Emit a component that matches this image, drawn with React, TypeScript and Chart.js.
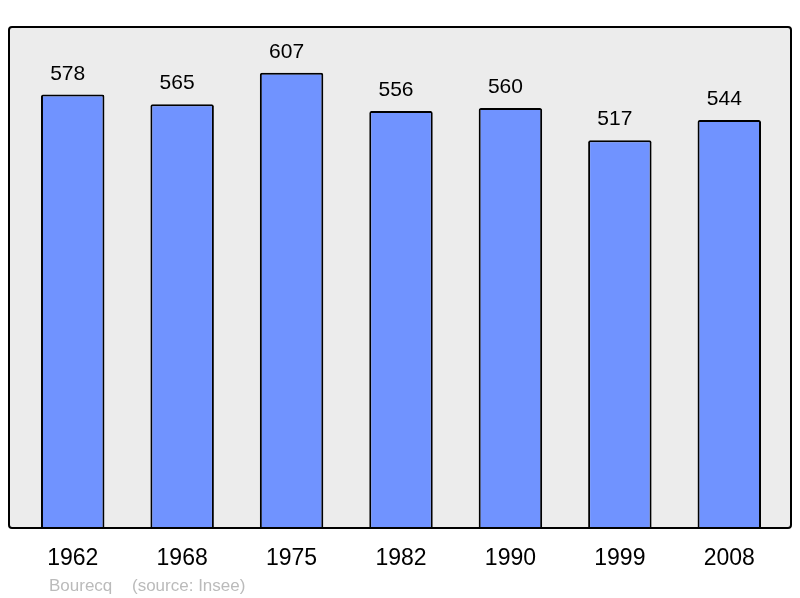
import React, { useEffect, useRef } from "react";
import { Chart, registerables } from "chart.js";

Chart.register(...registerables);

const years = ["1962", "1968", "1975", "1982", "1990", "1999", "2008"];
const population = [578, 565, 607, 556, 560, 517, 544];
const footerName = "Bourecq";
const footerSource = "(source: Insee)";

const FONT = "'Liberation Sans', Arial, sans-serif";

const framePlugin = {
  id: "frame",
  beforeDraw(chart: any) {
    const { ctx, chartArea } = chart;
    const l = chartArea.left - 9;
    const r = chartArea.right + 7;
    const t = chartArea.top;
    const b = chartArea.bottom;
    ctx.save();
    ctx.beginPath();
    ctx.roundRect(l, t, r - l, b - t, 3);
    ctx.fillStyle = "#ececec";
    ctx.fill();
    ctx.restore();
  },
  afterDatasetsDraw(chart: any) {
    const { ctx, chartArea } = chart;
    const l = chartArea.left - 9;
    const r = chartArea.right + 7;
    const t = chartArea.top;
    const b = chartArea.bottom;
    ctx.save();
    ctx.beginPath();
    ctx.roundRect(l, t, r - l, b - t, 3);
    ctx.lineWidth = 2;
    ctx.strokeStyle = "#000";
    ctx.stroke();
    // value labels
    const meta = chart.getDatasetMeta(0);
    ctx.fillStyle = "#000";
    ctx.font = `21px ${FONT}`;
    ctx.textAlign = "center";
    ctx.textBaseline = "alphabetic";
    meta.data.forEach((bar: any, i: number) => {
      ctx.fillText(String(population[i]), bar.x - 5, bar.y - 15);
    });
    // footer
    ctx.fillStyle = "#bbbbbb";
    ctx.font = `17px ${FONT}`;
    ctx.textAlign = "left";
    ctx.fillText(footerName, 49, 590.5);
    ctx.fillText(footerSource, 132, 590.5);
    ctx.restore();
  },
};

export default function App() {
  const ref = useRef<HTMLCanvasElement>(null);
  useEffect(() => {
    if (!ref.current) return;
    const chart = new Chart(ref.current, {
      type: "bar",
      data: {
        labels: years,
        datasets: [
          {
            data: population,
            backgroundColor: "#7093ff",
            borderColor: "#000",
            borderWidth: 2,
            borderRadius: 2,
            borderSkipped: "bottom",
            barPercentage: 0.58,
            categoryPercentage: 1,
          },
        ],
      },
      options: {
        animation: false,
        responsive: false,
        maintainAspectRatio: false,
        layout: { padding: { left: 18, right: 16, top: 27, bottom: 0 } },
        plugins: {
          legend: { display: false },
          tooltip: { enabled: false },
          title: { display: false },
        },
        scales: {
          x: {
            grid: { display: false, drawTicks: false },
            border: { display: false },
            ticks: {
              color: "#000",
              font: { family: FONT, size: 23 },
              padding: 17,
              maxRotation: 0,
            },
            afterFit: (scale: any) => {
              scale.height = 70;
            },
          },
          y: {
            display: false,
            min: 0,
            max: 668,
          },
        },
      },
      plugins: [framePlugin],
    });
    return () => chart.destroy();
  }, []);
  return (
    <canvas
      ref={ref}
      width={800}
      height={598}
      style={{ position: "absolute", left: 0, top: 0, width: 800, height: 598 }}
    />
  );
}
